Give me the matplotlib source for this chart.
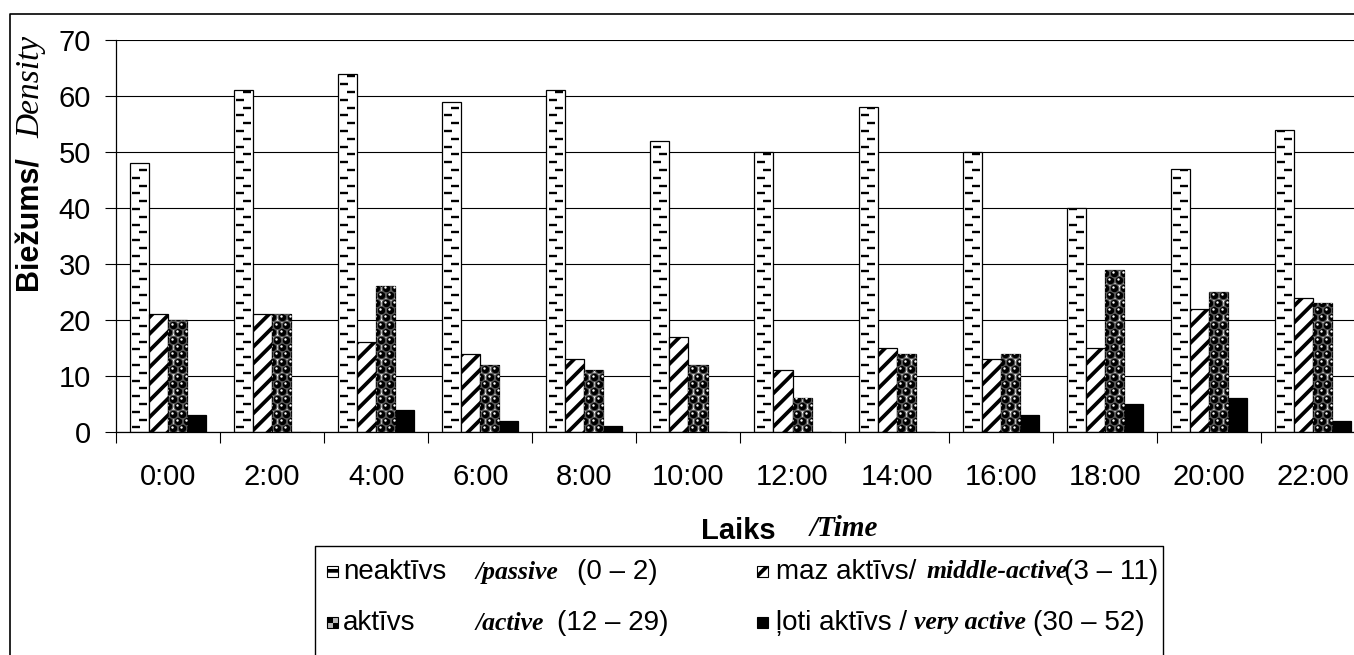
import matplotlib.pyplot as plt
import numpy as np
from matplotlib.patches import Rectangle
from matplotlib.lines import Line2D

# Activity counts per two-hour slot
times = ["0:00", "2:00", "4:00", "6:00", "8:00", "10:00",
         "12:00", "14:00", "16:00", "18:00", "20:00", "22:00"]
passive = [48, 61, 64, 59, 61, 52, 50, 58, 50, 40, 47, 54]
middle_active = [21, 21, 16, 14, 13, 17, 11, 15, 13, 15, 22, 24]
active = [20, 21, 26, 12, 11, 12, 6, 14, 14, 29, 25, 23]
very_active = [3, 0, 4, 2, 1, 0, 0, 0, 3, 5, 6, 2]

SANS = "Liberation Sans"
SERIF = "Liberation Serif"
plt.rcParams["font.family"] = [SANS, "DejaVu Sans"]
plt.rcParams["hatch.linewidth"] = 2.7

W, H = 1354, 655
fig = plt.figure(figsize=(W / 100, H / 100), dpi=100)


def fx(px):
    return px / W


def fy(py):
    return 1 - py / H


ax_w, ax_h = 1249, 392
ax = fig.add_axes([fx(116), fy(432), ax_w / W, ax_h / H])
PX_X = ax_w / 12   # pixels per category
PX_Y = ax_h / 70   # pixels per unit

x = np.arange(len(times))
w = 0.183

b_pass = ax.bar(x - 1.5 * w, passive, w, facecolor="white", edgecolor="black", lw=0.9)
b_mid = ax.bar(x - 0.5 * w, middle_active, w, facecolor="white", edgecolor="black",
               lw=0.9, hatch="//")
b_act = ax.bar(x + 0.5 * w, active, w, facecolor="white", edgecolor="black", lw=0.9)
b_very = ax.bar(x + 1.5 * w, very_active, w, facecolor="black", edgecolor="black", lw=0.9)


def dash_texture(bar):
    x0, bw, h = bar.get_x(), bar.get_width(), bar.get_height()
    if h <= 0:
        return
    step = 7.8 / PX_Y
    ys = np.arange(step * 0.6, h, step)
    xs = np.where(np.arange(len(ys)) % 2 == 0, x0 + 0.33 * bw, x0 + 0.68 * bw)
    ln, = ax.plot(xs, ys, ls="none", marker="_", ms=5.4, mew=1.7, color="black", zorder=1.5)
    ln.set_clip_path(bar)


def ball_texture(bar):
    x0, bw, h = bar.get_x(), bar.get_width(), bar.get_height()
    if h <= 0:
        return
    step = 7.4 / PX_Y
    pts = []
    for k, yv in enumerate(np.arange(step * 0.5, h + step, step)):
        cols = (0.25, 0.75) if k % 2 == 0 else (0.0, 0.5, 1.0)
        pts += [(x0 + c * bw, yv) for c in cols]
    pts = np.array(pts)
    balls = ax.scatter(pts[:, 0], pts[:, 1], s=38, c="black", edgecolors="#555555",
                       linewidths=0.8, zorder=1.5)
    shine = ax.scatter(pts[:, 0] - 1.0 / PX_X, pts[:, 1] + 1.0 / PX_Y, s=3, c="white",
                       linewidths=0, zorder=1.6)
    balls.set_clip_path(bar)
    shine.set_clip_path(bar)


for bar in b_pass:
    dash_texture(bar)
for bar in b_act:
    ball_texture(bar)

ax.set_xlim(-0.5, 11.5)
ax.set_ylim(0, 70)
ax.set_axisbelow(True)
ax.yaxis.grid(True, color="black", lw=0.8)

for side in ("top", "right"):
    ax.spines[side].set_visible(False)
ax.spines["left"].set_linewidth(0.9)
ax.spines["bottom"].set_linewidth(0.9)

ax.set_xticks(x, times)
ax.set_xticks(np.arange(-0.5, 12, 1), minor=True)
ax.tick_params(axis="x", which="major", length=0, pad=22, labelsize=21)
ax.tick_params(axis="x", which="minor", length=8, width=0.8, direction="out")
ax.set_yticks(range(0, 80, 10))
ax.tick_params(axis="y", length=8, width=0.8, direction="out", pad=10, labelsize=21)

# axis titles, mixed fonts
fig.text(fx(29), fy(156), "Biežums/", rotation=90, ha="center", va="top",
         fontsize=22, fontweight="bold", family=SANS)
fig.text(fx(31), fy(36), "Density", rotation=90, ha="center", va="top",
         fontsize=24, fontstyle="italic", family=SERIF)
fig.text(fx(738), fy(531), "Laiks", ha="center", va="center",
         fontsize=21, fontweight="bold", family=SANS)
fig.text(fx(810), fy(529), "/Time", ha="left", va="center",
         fontsize=21, fontweight="bold", fontstyle="italic", family=SERIF)

# outer frame
fig.add_artist(Line2D([fx(10), fx(10), fx(W + 5)], [fy(H + 5), fy(14), fy(14)],
                      transform=fig.transFigure, color="black", lw=1.2))

# legend frame and entries
fig.add_artist(Line2D([fx(315), fx(315), fx(1163), fx(1163)],
                      [fy(H + 5), fy(546), fy(546), fy(H + 5)],
                      transform=fig.transFigure, color="black", lw=1.0))


def swatch(px, py, size=11, **kw):
    r = Rectangle((fx(px), fy(py + size)), size / W, size / H,
                  transform=fig.transFigure, **kw)
    fig.add_artist(r)


row1, row2 = 572, 623
swatch(327, row1 - 6, facecolor="white", edgecolor="black", lw=0.8, hatch="--")
swatch(757, row1 - 6, facecolor="white", edgecolor="black", lw=0.8, hatch="//")
# checkered swatch for the "active" class
for i in range(2):
    for j in range(2):
        swatch(327 + 5.5 * i, row2 - 6 + 5.5 * j, size=5.5, lw=0,
               facecolor="black" if (i + j) % 2 == 0 else "#bbbbbb")
swatch(327, row2 - 6, fill=False, edgecolor="black", lw=0.8)
swatch(757, row2 - 6, facecolor="black", edgecolor="black", lw=0.8)

legend_parts = [
    (343, row1, "neaktīvs", "sans"), (476, row1, "/passive", "serif"),
    (577, row1, "(0 – 2)", "sans"),
    (776, row1, "maz aktīvs/", "sans"), (927, row1, "middle-active", "serif"),
    (1158, row1, "(3 – 11)", "right"),
    (343, row2, "aktīvs", "sans"), (476, row2, "/active", "serif"),
    (557, row2, "(12 – 29)", "sans"),
    (776, row2, "ļoti aktīvs /", "sans"), (914, row2, "very active", "serif"),
    (1145, row2, "(30 – 52)", "right"),
]
for px, py, txt, kind in legend_parts:
    if kind == "serif":
        fig.text(fx(px), fy(py), txt, ha="left", va="center", fontsize=18.5,
                 fontweight="bold", fontstyle="italic", family=SERIF)
    elif kind == "right":
        # right column ranges end flush against the frame
        fig.text(fx(px), fy(py), txt, ha="right", va="center", fontsize=20, family=SANS)
    else:
        fig.text(fx(px), fy(py), txt, ha="left", va="center", fontsize=20, family=SANS)

fig.savefig("out.png", dpi=100)
